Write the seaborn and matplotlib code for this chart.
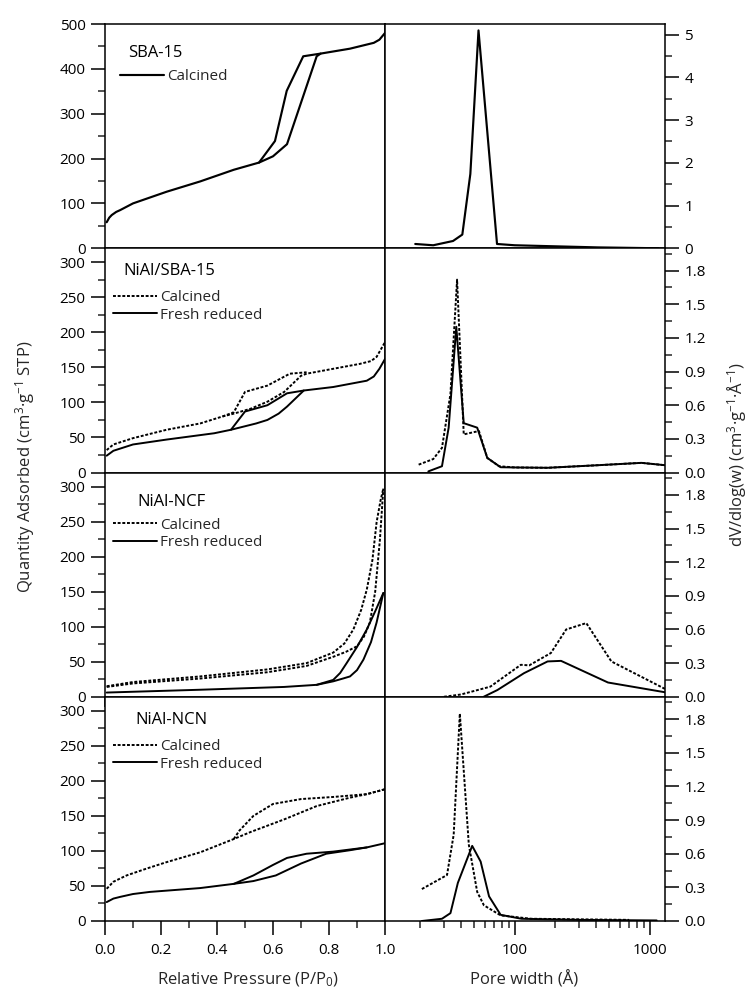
import numpy as np
import pandas as pd
import seaborn as sns
import matplotlib.pyplot as plt
from matplotlib.lines import Line2D
from matplotlib.ticker import MultipleLocator, FixedLocator, FixedFormatter, NullFormatter

sns.set_theme(style="ticks")
plt.rcParams["font.family"] = ["Open Sans", "DejaVu Sans"]
plt.rcParams["mathtext.fontset"] = "custom"
plt.rcParams["mathtext.rm"] = "Open Sans"
plt.rcParams["mathtext.it"] = "Open Sans"
plt.rcParams["mathtext.default"] = "regular"

# ---------------- N2 isotherms (P/P0, cm3/g STP) ----------------
# SBA-15 calcined
sba_p_ads = [0.006, 0.015, 0.024, 0.04, 0.054, 0.10, 0.16, 0.22, 0.34, 0.46, 0.55, 0.60, 0.65, 0.756, 0.77, 0.875, 0.96, 0.98, 1.0]
sba_q_ads = [58, 68, 74, 81, 85, 100, 113, 126, 149, 175, 191, 205, 232, 428, 434, 445, 458, 465, 480]
sba_p_des = [0.55, 0.607, 0.649, 0.708, 0.77]
sba_q_des = [191, 239, 351, 428, 434]

# NiAl/SBA-15
nsba_cal_p_ads = [0.006, 0.03, 0.10, 0.22, 0.34, 0.42, 0.46, 0.52, 0.58, 0.64, 0.70, 0.72, 0.815, 0.91, 0.95, 0.97, 1.0]
nsba_cal_q_ads = [32, 40, 49, 61, 70, 80, 84, 91, 101, 115, 138, 141, 148, 155, 159, 165, 186]
nsba_cal_p_des = [0.42, 0.46, 0.50, 0.58, 0.66, 0.72]
nsba_cal_q_des = [80, 86, 115, 124, 141, 143]
nsba_red_p_ads = [0.006, 0.03, 0.10, 0.22, 0.39, 0.45, 0.49, 0.54, 0.58, 0.62, 0.65, 0.71, 0.815, 0.935, 0.96, 0.98, 1.0]
nsba_red_q_ads = [24, 31, 40, 47, 56, 61, 65, 70, 75, 84, 94, 117, 122, 131, 137, 148, 162]
nsba_red_p_des = [0.45, 0.50, 0.58, 0.65, 0.71]
nsba_red_q_des = [61, 87, 96, 113, 117]

# NiAl-NCF
ncf_cal_p_ads = [0.006, 0.10, 0.34, 0.58, 0.72, 0.815, 0.86, 0.90, 0.925, 0.946, 0.965, 0.982, 0.994]
ncf_cal_q_ads = [14, 19, 26, 35, 44, 57, 64, 72, 86, 106, 150, 225, 297]
ncf_cal_p_des = [0.006, 0.10, 0.34, 0.58, 0.72, 0.815, 0.855, 0.887, 0.915, 0.935, 0.955, 0.97, 0.984, 0.994]
ncf_cal_q_des = [15, 21, 29, 39, 48, 63, 76, 96, 124, 153, 195, 249, 280, 297]
ncf_red_p_ads = [0.006, 0.34, 0.64, 0.756, 0.815, 0.85, 0.875, 0.90, 0.923, 0.95, 0.97, 0.994]
ncf_red_q_ads = [6, 10, 14, 17, 22, 26, 29, 38, 53, 78, 106, 148]
ncf_red_p_des = [0.756, 0.815, 0.84, 0.863, 0.90, 0.935, 0.965, 0.994]
ncf_red_q_des = [17, 24, 34, 48, 71, 96, 122, 148]

# NiAl-NCN
ncn_cal_p_ads = [0.006, 0.03, 0.077, 0.15, 0.22, 0.34, 0.46, 0.52, 0.64, 0.756, 0.875, 0.935, 1.0]
ncn_cal_q_ads = [46, 56, 65, 75, 84, 98, 117, 127, 145, 164, 176, 181, 188]
ncn_cal_p_des = [0.46, 0.48, 0.53, 0.60, 0.70, 0.815, 0.935, 1.0]
ncn_cal_q_des = [117, 129, 150, 167, 174, 177, 181, 188]
ncn_red_p_ads = [0.006, 0.03, 0.054, 0.10, 0.16, 0.34, 0.46, 0.53, 0.61, 0.70, 0.79, 0.875, 0.935, 1.0]
ncn_red_q_ads = [27, 32, 34.4, 38.5, 41.5, 47, 53, 57, 65, 82, 96, 101, 105, 111]
ncn_red_p_des = [0.46, 0.53, 0.60, 0.65, 0.72, 0.815, 0.935]
ncn_red_q_des = [53, 65, 80, 90, 96, 99, 105]

# ---------------- pore size distributions (width in Å, dV/dlog(w)) ----------------
sba_w = [18.4, 25, 35, 41, 47, 54, 74, 100, 175, 412, 1150]
sba_v = [0.10, 0.07, 0.17, 0.32, 1.74, 5.10, 0.10, 0.07, 0.05, 0.02, 0.0]

nsba_cal_w = [19.5, 25, 29, 33.5, 37.5, 42, 54.4, 62.7, 76.5, 100, 175, 412, 865, 1290]
nsba_cal_v = [0.07, 0.12, 0.22, 0.70, 1.72, 0.34, 0.37, 0.13, 0.056, 0.045, 0.042, 0.065, 0.086, 0.065]
nsba_red_w = [23, 29, 32.5, 37, 42, 52.8, 62.7, 78.7, 100, 175, 412, 865, 1290]
nsba_red_v = [0.01, 0.056, 0.40, 1.30, 0.44, 0.40, 0.13, 0.047, 0.045, 0.042, 0.065, 0.086, 0.065]

ncf_cal_w = [30, 40, 66, 111, 128, 185, 240, 338, 518, 1290]
ncf_cal_v = [0.0, 0.02, 0.09, 0.285, 0.28, 0.39, 0.60, 0.657, 0.315, 0.07]
ncf_red_w = [59, 74.5, 117, 175, 220, 489, 1290]
ncf_red_v = [0.0, 0.06, 0.21, 0.315, 0.32, 0.127, 0.04]

ncn_cal_w = [20.6, 31.6, 35.4, 39.3, 45.8, 52.8, 59.2, 78.7, 132, 300, 700]
ncn_cal_v = [0.285, 0.41, 0.77, 1.85, 0.68, 0.26, 0.14, 0.05, 0.02, 0.015, 0.01]
ncn_red_w = [20.6, 29, 33.5, 38, 48.5, 56, 64.6, 78.7, 112, 300, 1120]
ncn_red_v = [0.0, 0.02, 0.07, 0.34, 0.67, 0.53, 0.22, 0.055, 0.02, 0.01, 0.005]

sample_names = ["SBA-15", "NiAl/SBA-15", "NiAl-NCF", "NiAl-NCN"]
state_labels = ["Calcined", "Fresh reduced"]

LW = 1.4
SOLID = "-"
DASHED = (0, (1.5, 0.9))


def draw(ax, x, y, ls, lw=LW):
    df = pd.DataFrame({"x": x, "y": y})
    sns.lineplot(data=df, x="x", y="y", ax=ax, color="black", linestyle=ls,
                 linewidth=lw, sort=False, estimator=None, legend=False)


fig = plt.figure(figsize=(7.48, 9.92), dpi=100)
gs = fig.add_gridspec(4, 2, left=105 / 748, right=665 / 748,
                      top=1 - 24 / 992, bottom=1 - 921 / 992, wspace=0, hspace=0)
axL = [fig.add_subplot(gs[i, 0]) for i in range(4)]
axR = [fig.add_subplot(gs[i, 1]) for i in range(4)]

# isotherms
draw(axL[0], sba_p_ads, sba_q_ads, SOLID, 1.55)
draw(axL[0], sba_p_des, sba_q_des, SOLID, 1.55)
draw(axL[1], nsba_cal_p_ads, nsba_cal_q_ads, DASHED)
draw(axL[1], nsba_cal_p_des, nsba_cal_q_des, DASHED)
draw(axL[1], nsba_red_p_ads, nsba_red_q_ads, SOLID)
draw(axL[1], nsba_red_p_des, nsba_red_q_des, SOLID)
draw(axL[2], ncf_cal_p_ads, ncf_cal_q_ads, DASHED)
draw(axL[2], ncf_cal_p_des, ncf_cal_q_des, DASHED)
draw(axL[2], ncf_red_p_ads, ncf_red_q_ads, SOLID)
draw(axL[2], ncf_red_p_des, ncf_red_q_des, SOLID)
draw(axL[3], ncn_cal_p_ads, ncn_cal_q_ads, DASHED)
draw(axL[3], ncn_cal_p_des, ncn_cal_q_des, DASHED)
draw(axL[3], ncn_red_p_ads, ncn_red_q_ads, SOLID)
draw(axL[3], ncn_red_p_des, ncn_red_q_des, SOLID)

# pore size distributions
draw(axR[0], sba_w, sba_v, SOLID, 1.55)
draw(axR[1], nsba_cal_w, nsba_cal_v, DASHED)
draw(axR[1], nsba_red_w, nsba_red_v, SOLID)
draw(axR[2], ncf_cal_w, ncf_cal_v, DASHED)
draw(axR[2], ncf_red_w, ncf_red_v, SOLID)
draw(axR[3], ncn_cal_w, ncn_cal_v, DASHED)
draw(axR[3], ncn_red_w, ncn_red_v, SOLID)

TICK_FS = 11
for i, ax in enumerate(axL):
    ax.set_xlim(0, 1.0)
    ax.set_xlabel("")
    ax.set_ylabel("")
    if i == 0:
        ax.set_ylim(0, 500)
        ax.yaxis.set_major_locator(MultipleLocator(100))
        ax.yaxis.set_minor_locator(MultipleLocator(50))
    else:
        ax.set_ylim(0, 320)
        ax.yaxis.set_major_locator(MultipleLocator(50))
        ax.yaxis.set_minor_locator(MultipleLocator(25))
    ax.xaxis.set_major_locator(MultipleLocator(0.2))
    ax.xaxis.set_minor_locator(MultipleLocator(0.1))
    ax.xaxis.set_major_formatter(plt.FuncFormatter(lambda v, p: f"{v:.1f}"))
    ax.tick_params(axis="y", which="major", direction="out", length=10, width=1.1,
                   labelsize=TICK_FS, pad=4, left=True, right=False)
    ax.tick_params(axis="y", which="minor", direction="out", length=5, width=1.1,
                   left=True, right=False)
    show_x = i >= 2
    ax.tick_params(axis="x", which="major", direction="out", length=10 if i == 3 else 7,
                   width=1.1, labelsize=TICK_FS, pad=6, bottom=show_x, top=False,
                   labelbottom=(i == 3))
    ax.tick_params(axis="x", which="minor", direction="out", length=5 if i == 3 else 4,
                   width=1.1, bottom=show_x, top=False)

for i, ax in enumerate(axR):
    ax.set_xscale("log")
    ax.set_xlim(11, 1290)
    ax.set_xlabel("")
    ax.set_ylabel("")
    ax.xaxis.set_major_locator(FixedLocator([100, 1000]))
    ax.xaxis.set_major_formatter(FixedFormatter(["100", "1000"]))
    ax.xaxis.set_minor_locator(FixedLocator(
        [20, 30, 40, 50, 60, 70, 80, 90, 200, 300, 400, 500, 600, 700, 800, 900]))
    ax.xaxis.set_minor_formatter(NullFormatter())
    if i == 0:
        ax.set_ylim(0, 5.25)
        ax.yaxis.set_major_locator(MultipleLocator(1))
        ax.yaxis.set_minor_locator(MultipleLocator(0.5))
        ax.yaxis.set_major_formatter(plt.FuncFormatter(lambda v, p: f"{v:.0f}"))
    else:
        ax.set_ylim(0, 2.0)
        ax.yaxis.set_major_locator(FixedLocator([0, 0.3, 0.6, 0.9, 1.2, 1.5, 1.8]))
        ax.yaxis.set_minor_locator(FixedLocator([0.15, 0.45, 0.75, 1.05, 1.35, 1.65, 1.95]))
        ax.yaxis.set_major_formatter(plt.FuncFormatter(lambda v, p: f"{v:.1f}"))
    ax.yaxis.tick_right()
    ax.tick_params(axis="y", which="major", direction="out", length=10, width=1.1,
                   labelsize=TICK_FS, pad=4, left=False, right=True)
    ax.tick_params(axis="y", which="minor", direction="out", length=5, width=1.1,
                   left=False, right=True)
    ax.tick_params(axis="x", which="major", direction="out", length=10 if i == 3 else 7,
                   width=1.1, labelsize=TICK_FS, pad=6, bottom=True, top=False,
                   labelbottom=(i == 3))
    ax.tick_params(axis="x", which="minor", direction="out", length=5 if i == 3 else 4,
                   width=1.1, bottom=True, top=False)

for ax in axL + axR:
    for s in ax.spines.values():
        s.set_color("black")
        s.set_linewidth(1.1)
    ax.tick_params(colors="black")

# sample names and legends
title_pos = [(0.082, 0.869), (0.064, 0.898), (0.114, 0.870), (0.107, 0.897)]
for i, ax in enumerate(axL):
    ax.text(title_pos[i][0], title_pos[i][1], sample_names[i], transform=ax.transAxes,
            fontsize=12, ha="left", va="center", color="black")

legend_kw = dict(frameon=False, fontsize=11, handlelength=2.85, handletextpad=0.25,
                 borderpad=0, borderaxespad=0, labelspacing=0.18, loc="center left")
h_cal = Line2D([], [], color="black", lw=LW, linestyle=DASHED)
h_red = Line2D([], [], color="black", lw=LW, linestyle=SOLID)
h_sba = Line2D([], [], color="black", lw=1.55, linestyle=SOLID)
axL[0].legend([h_sba], [state_labels[0]], bbox_to_anchor=((120 - 105) / 280, (246 - 76) / 222), **legend_kw)
axL[1].legend([h_cal, h_red], state_labels, bbox_to_anchor=((113 - 105) / 280, (473 - 305.5) / 226), **legend_kw)
axL[2].legend([h_cal, h_red], state_labels, bbox_to_anchor=((113 - 105) / 280, (697 - 534.5) / 224), **legend_kw)
axL[3].legend([h_cal, h_red], state_labels, bbox_to_anchor=((113 - 105) / 280, (921 - 755.5) / 224), **legend_kw)

# axis titles
fig.text(248 / 748, 1 - 980 / 992, "Relative Pressure (P/P$_0$)", ha="center", va="center", fontsize=12)
fig.text(524 / 748, 1 - 980 / 992, "Pore width (Å)", ha="center", va="center", fontsize=12)
fig.text(25 / 748, 1 - 467 / 992, "Quantity Adsorbed (cm$^3$·g$^{-1}$ STP)",
         rotation=90, ha="center", va="center", fontsize=12)
fig.text(737 / 748, 1 - 455 / 992, "dV/dlog(w) (cm$^3$·g$^{-1}$·Å$^{-1}$)",
         rotation=90, ha="center", va="center", fontsize=12)

fig.savefig("out.png", dpi=100, facecolor="white")
